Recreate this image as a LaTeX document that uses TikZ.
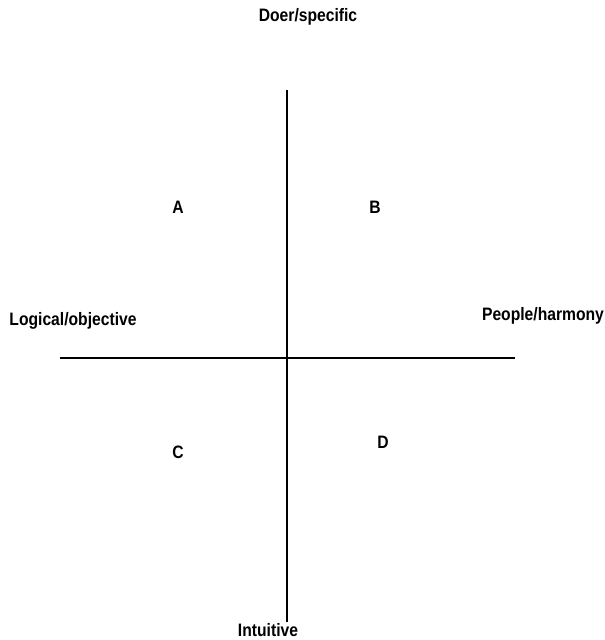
\documentclass[tikz,border=0pt]{standalone}
\usepackage{fontspec}
\setmainfont{Liberation Sans}[FakeStretch=0.87]
\usetikzlibrary{positioning}

\begin{document}
\begin{tikzpicture}[
        x=1pt, y=-1pt, font=\bfseries\fontsize{18}{21}\selectfont,
        axis/.style={draw, line width=1.2pt},
        pole/.style={inner sep=0pt, anchor=center},
        quad/.style={inner sep=0pt, anchor=center}
    ]
    \useasboundingbox (0,0) rectangle (605,640);
    \coordinate (top) at (287,90);
    \coordinate (bottom) at (287,622);
    \coordinate (left) at (60,358);
    \coordinate (right) at (515,358);

    \node[pole] (doer) at (308,17) {Doer/specific};
    \node[pole] (logical) at (73,321) {Logical/objective};
    \node[pole] (people) at (543,316) {People/harmony};
    \node[pole] (intuitive) at (268,630) {Intuitive};

    \node[quad] (qa) at (178,207) {A};
    \node[quad] (qb) at (375,207) {B};
    \node[quad] (qc) at (178,452) {C};
    \node[quad] (qd) at (383,442) {D};

    \draw[axis] (top) -- (bottom);
    \draw[axis] (left) -- (right);
\end{tikzpicture}
\end{document}
